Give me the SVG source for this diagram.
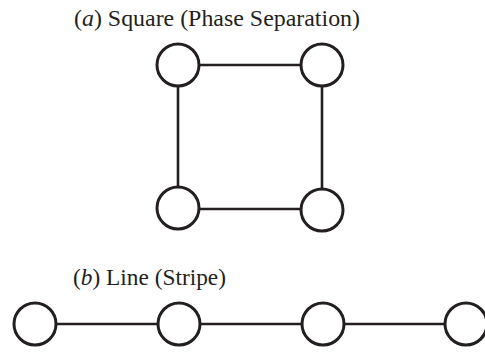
<svg xmlns="http://www.w3.org/2000/svg" width="485" height="354" viewBox="0 0 485 354">
<style>
.n{fill:#fff;stroke:#231f20;stroke-width:3}
.e{stroke:#231f20;stroke-width:2.6;fill:none}
.t{font-family:'Liberation Serif','Times New Roman',Times,serif;font-size:22.5px;fill:#231f20}
</style>
<rect width="485" height="354" fill="#fff"/>
<text class="t" x="74" y="26" textLength="286" lengthAdjust="spacingAndGlyphs">(<tspan font-style="italic">a</tspan>) Square (Phase Separation)</text>
<text class="t" x="73" y="285" textLength="153" lengthAdjust="spacingAndGlyphs">(<tspan font-style="italic">b</tspan>) Line (Stripe)</text>
<g id="connectors">
<line class="e" x1="199" y1="65" x2="301" y2="65"/>
<line class="e" x1="178" y1="86" x2="178" y2="187"/>
<line class="e" x1="322" y1="86" x2="322" y2="189"/>
<line class="e" x1="199" y1="209" x2="301" y2="209"/>
<line class="e" x1="56" y1="324" x2="158" y2="324"/>
<line class="e" x1="200" y1="324" x2="302" y2="324"/>
<line class="e" x1="344" y1="324" x2="445" y2="324"/>
</g>
<g id="a1"><circle class="n" cx="178" cy="65" r="21"/></g>
<g id="a2"><circle class="n" cx="322" cy="65" r="21"/></g>
<g id="a3"><circle class="n" cx="178" cy="208" r="21"/></g>
<g id="a4"><circle class="n" cx="322" cy="210" r="21"/></g>
<g id="b1"><circle class="n" cx="35" cy="324" r="21"/></g>
<g id="b2"><circle class="n" cx="179" cy="324" r="21"/></g>
<g id="b3"><circle class="n" cx="323" cy="324" r="21"/></g>
<g id="b4"><circle class="n" cx="466" cy="324" r="21"/></g>
</svg>
